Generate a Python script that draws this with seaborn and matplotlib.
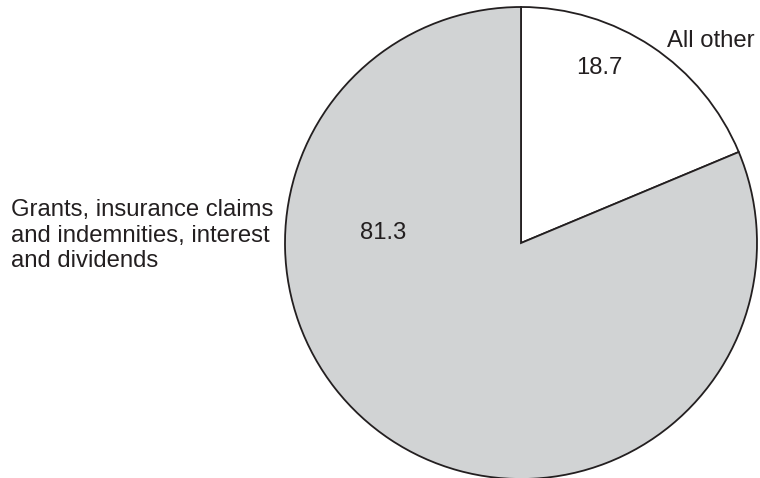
import matplotlib
matplotlib.use("Agg")
import matplotlib.pyplot as plt
import seaborn as sns

sns.set_theme(style="white")
plt.rcParams['font.family'] = ['Liberation Sans', 'DejaVu Sans']

categories = ["All other", "Grants, insurance claims\nand indemnities, interest\nand dividends"]
values = [18.7, 81.3]
value_labels = ["18.7", "81.3"]
colors = ["#ffffff", "#d1d3d4"]

W, H = 760, 478
fig = plt.figure(figsize=(W / 100, H / 100), dpi=100)
ax = fig.add_axes([0, 0, 1, 1])

cx, cy, r = 521, H - 243, 236
ax.pie(values, colors=colors, startangle=90, counterclock=False,
       center=(cx, cy), radius=r, frame=True,
       wedgeprops=dict(edgecolor="#231f20", linewidth=1.3))
ax.set_xlim(0, W)
ax.set_ylim(0, H)
ax.set_aspect("equal")
ax.set_axis_off()

tc = "#231f20"
fs = 17.2
ax.text(667, H - 47, categories[0], ha="left", va="baseline", fontsize=fs, color=tc)
ax.text(599, H - 74, value_labels[0], ha="center", va="baseline", fontsize=fs, color=tc)
ax.text(383, H - 239, value_labels[1], ha="center", va="baseline", fontsize=fs, color=tc)
ax.text(11, H - 267, categories[1], ha="left", va="baseline", fontsize=fs, color=tc,
        linespacing=1.2)

fig.savefig("out.png", dpi=100)
